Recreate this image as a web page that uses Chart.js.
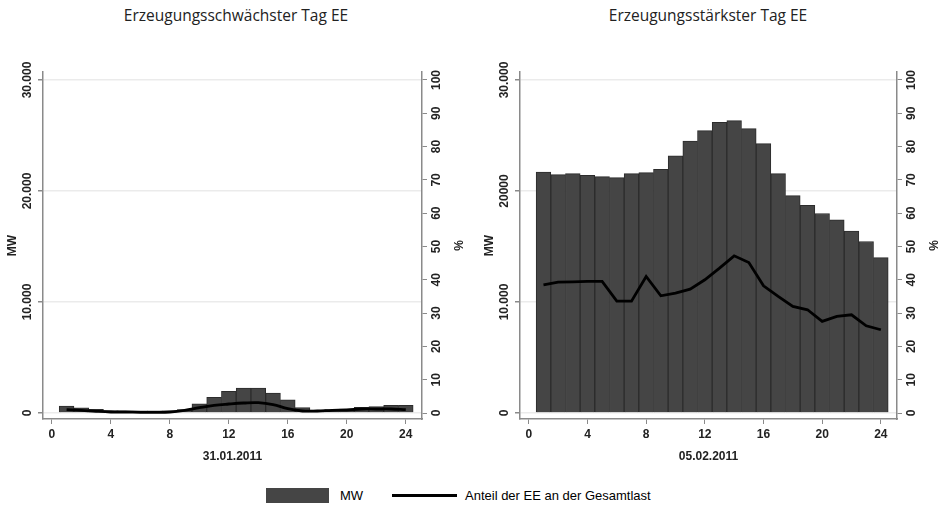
<!DOCTYPE html>
<html>
<head>
<meta charset="utf-8">
<script src="https://cdn.jsdelivr.net/npm/chart.js@4.4.0/dist/chart.umd.min.js"></script>
<style>
body { margin: 0; background: #fff; width: 948px; height: 507px; position: relative; overflow: hidden; font-family: 'Liberation Sans', Arial, sans-serif; }
.panel { position: absolute; top: 0; width: 474px; height: 470px; }
.title { position: absolute; top: 5px; width: 300px; font-family: 'Open Sans', sans-serif; font-size: 15.5px; line-height: 20px; color: #222; text-align: center; }
.leg { position: absolute; font-size: 13px; color: #000; line-height: 16px; }
</style>
</head>
<body>
<div class="title" style="left:86px">Erzeugungsschwächster Tag EE</div>
<div class="title" style="left:558px">Erzeugungsstärkster Tag EE</div>
<div class="panel" style="left:0"><canvas id="lowChart" width="474" height="470"></canvas></div>
<div class="panel" style="left:474px"><canvas id="highChart" width="474" height="470"></canvas></div>

<div style="position:absolute;left:266px;top:488px;width:63px;height:15px;background:#454545"></div>
<div class="leg" style="left:340px;top:488px">MW</div>
<div style="position:absolute;left:392px;top:494px;width:65px;height:3px;background:#000"></div>
<div class="leg" style="left:465px;top:488px">Anteil der EE an der Gesamtlast</div>

<script>
// hours of the day
var hours = [1, 2, 3, 4, 5, 6, 7, 8, 9, 10, 11, 12, 13, 14, 15, 16, 17, 18, 19, 20, 21, 22, 23, 24];

// 31.01.2011 - weakest day
var mwLow  = [620, 460, 340, 220, 200, 190, 190, 200, 300, 830, 1420, 1960, 2250, 2250, 1800, 1180, 480, 260, 300, 360, 520, 590, 700, 700];
var pctLow = [1.0, 0.8, 0.5, 0.3, 0.3, 0.2, 0.2, 0.3, 0.8, 1.6, 2.3, 2.7, 3.0, 3.1, 2.5, 1.3, 0.6, 0.6, 0.8, 0.9, 1.2, 1.2, 1.2, 1.0];

// 05.02.2011 - strongest day
var mwHigh  = [21700, 21480, 21570, 21420, 21300, 21200, 21570, 21650, 21960, 23160, 24500, 25440, 26190, 26340, 25620, 24270, 21570, 19590, 18720, 17970, 17400, 16380, 15450, 14000];
var pctHigh = [38.5, 39.3, 39.4, 39.5, 39.5, 33.6, 33.6, 41.0, 35.2, 36.0, 37.2, 40.0, 43.5, 47.2, 45.2, 38.2, 35.0, 32.0, 31.0, 27.5, 29.0, 29.5, 26.2, 25.0];

var mwTicks = [0, 10000, 20000, 30000];
var mwLabelsLow = ['0', '10.000', '20.000', '30.000'];
var mwLabelsHigh = ['0', '10.000', '20000', '30.000'];
var pctTicks = [0, 10, 20, 30, 40, 50, 60, 70, 80, 90, 100];
var hourTicks = [0, 4, 8, 12, 16, 20, 24];

var axisGrey = '#8a8a8a';
var tickFont = { family: 'Liberation Sans', size: 12, weight: 'bold' };

// draws the rotated y tick labels and axis titles like stata does
var verticalLabels = {
    id: 'verticalLabels',
    afterDraw: function(chart) {
        var ctx = chart.ctx;
        var y = chart.scales.y, y2 = chart.scales.y2;
        var labels = chart.options.plugins.verticalLabels.labels;
        var area = chart.chartArea;
        ctx.save();
        ctx.fillStyle = '#222';
        ctx.font = 'bold 12px "Liberation Sans"';
        ctx.textAlign = 'center';
        ctx.textBaseline = 'middle';
        function put(text, x, py) {
            ctx.save();
            ctx.translate(x, py);
            ctx.rotate(-Math.PI / 2);
            ctx.fillText(text, 0, 0);
            ctx.restore();
        }
        mwTicks.forEach(function(v, i) {
            put(labels[i], area.left - 15, y.getPixelForValue(v));
        });
        pctTicks.forEach(function(v) {
            put(String(v), area.right + 15, y2.getPixelForValue(v));
        });
        put('MW', area.left - 30, (area.top + area.bottom) / 2);
        put('%', area.right + 38, (area.top + area.bottom) / 2);
        ctx.restore();
    }
};

function makeChart(id, mw, pct, mwLabels, dateLabel, leftW, rightW, tension) {
    var ctx = document.getElementById(id).getContext('2d');
    return new Chart(ctx, {
        data: {
            datasets: [{
                type: 'line',
                label: 'Anteil der EE an der Gesamtlast',
                data: hours.map(function(h, i) { return { x: h, y: pct[i] }; }),
                yAxisID: 'y2',
                borderColor: '#000',
                borderWidth: 2.8,
                pointRadius: 0,
                tension: tension,
                order: 0
            }, {
                type: 'bar',
                label: 'MW',
                data: hours.map(function(h, i) { return { x: h, y: mw[i] }; }),
                yAxisID: 'y',
                backgroundColor: '#454545',
                borderColor: '#2c2c2c',
                borderWidth: 1,
                borderSkipped: 'bottom',
                barPercentage: 1,
                categoryPercentage: 1,
                order: 1
            }]
        },
        options: {
            responsive: false,
            animation: false,
            layout: { padding: { top: 72, left: 0, right: 0, bottom: 0 } },
            plugins: {
                legend: { display: false },
                tooltip: { enabled: false },
                verticalLabels: { labels: mwLabels }
            },
            scales: {
                x: {
                    type: 'linear',
                    offset: false,
                    min: -0.6,
                    max: 25.1,
                    afterBuildTicks: function(s) { s.ticks = hourTicks.map(function(v) { return { value: v }; }); },
                    afterFit: function(s) { s.height = 51; },
                    ticks: { font: tickFont, color: '#222', padding: 3, maxRotation: 0 },
                    grid: { offset: false, drawOnChartArea: false, tickLength: 5, tickColor: axisGrey },
                    border: { color: axisGrey, width: 1.5 },
                    title: { display: true, text: dateLabel, font: tickFont, color: '#222', padding: { top: 0, bottom: 6 } }
                },
                y: {
                    position: 'left',
                    min: -540,
                    max: 30720,
                    afterBuildTicks: function(s) { s.ticks = mwTicks.map(function(v) { return { value: v }; }); },
                    afterFit: function(s) { s.width = leftW; },
                    ticks: { display: false },
                    grid: { color: '#ebebeb', lineWidth: 1.5, tickLength: 5, tickColor: axisGrey },
                    border: { color: axisGrey, width: 1.5 }
                },
                y2: {
                    position: 'right',
                    min: -1.8,
                    max: 102.4,
                    afterBuildTicks: function(s) { s.ticks = pctTicks.map(function(v) { return { value: v }; }); },
                    afterFit: function(s) { s.width = rightW; },
                    ticks: { display: false },
                    grid: { drawOnChartArea: false, tickLength: 5, tickColor: axisGrey },
                    border: { color: axisGrey, width: 1.5 }
                }
            }
        },
        plugins: [verticalLabels]
    });
}

makeChart('lowChart', mwLow, pctLow, mwLabelsLow, '31.01.2011', 43, 52, 0.4);
makeChart('highChart', mwHigh, pctHigh, mwLabelsHigh, '05.02.2011', 46, 51, 0);
</script>
</body>
</html>
